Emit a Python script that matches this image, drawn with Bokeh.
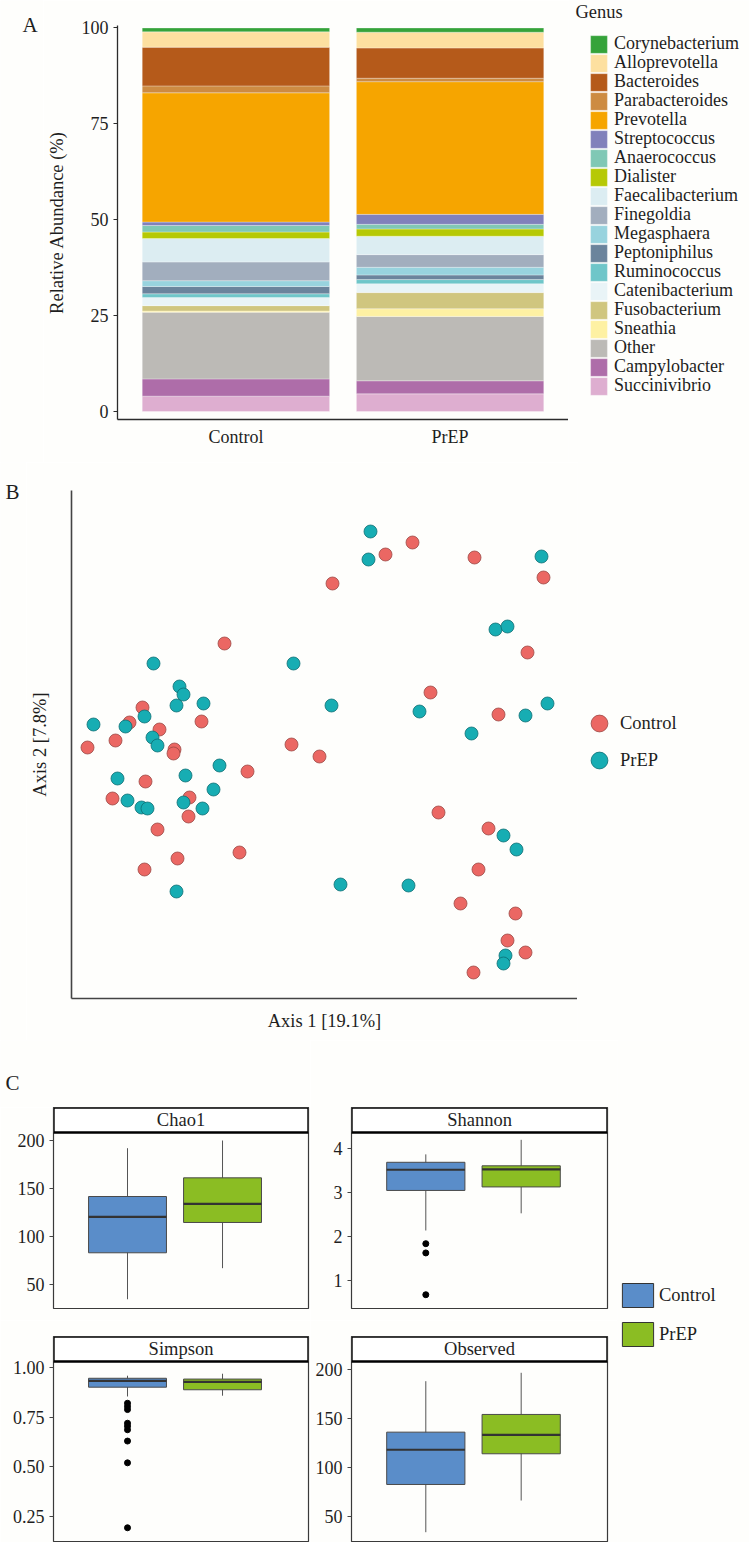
from bokeh.plotting import figure
from bokeh.models import (Range1d, FixedTicker, Legend, LegendItem, Label,
                          ColumnDataSource, NumeralTickFormatter, BoxAnnotation)
from bokeh.layouts import column, row
from bokeh.embed import file_html
from bokeh.resources import INLINE

FONT = "Liberation Serif"
BG = "#fefefc"
TXT = "#1e1e1e"

# ---------------- Panel A data ----------------
groups = ["Control", "PrEP"]
genera = ["Succinivibrio", "Campylobacter", "Other", "Sneathia", "Fusobacterium",
          "Catenibacterium", "Ruminococcus", "Peptoniphilus", "Megasphaera",
          "Finegoldia", "Faecalibacterium", "Dialister", "Anaerococcus",
          "Streptococcus", "Prevotella", "Parabacteroides", "Bacteroides",
          "Alloprevotella", "Corynebacterium"]
genus_colors = ["#deaed0", "#ae6da9", "#bcbab6", "#fef1a3", "#d0c67f",
                "#e9f4f7", "#6fc6c9", "#6b849c", "#98d3de",
                "#a2aebe", "#dcedf2", "#b6c905", "#80c8b5",
                "#8181bb", "#f6a500", "#cd8b42", "#b55a1a",
                "#fde0a0", "#35a33a"]
control_abund = [4.0, 4.5, 17.4, 0.3, 1.4, 2.1, 1.0, 1.9, 1.5, 4.9, 6.1, 1.7, 1.7,
                 0.9, 33.7, 1.8, 10.1, 4.0, 1.0]
prep_abund = [4.6, 3.4, 16.8, 2.0, 4.2, 2.3, 1.1, 1.2, 2.0, 3.3, 4.8, 1.9, 1.2,
              2.6, 34.6, 0.9, 7.9, 4.1, 1.1]

# ---------------- Panel B data (PCoA scores) ----------------
control_axis1 = [0.002, -0.106, -0.188, -0.129, -0.201, -0.171, -0.215, -0.243, -0.156,
                 -0.157, -0.039, -0.011, -0.083, -0.185, -0.218, -0.141, -0.142, -0.173,
                 -0.091, -0.153, -0.186, 0.082, 0.144, 0.213, 0.197, 0.100, 0.168,
                 0.108, 0.158, 0.148, 0.130, 0.185, 0.177, 0.195, 0.143, 0.055]
control_axis2 = [0.162, 0.102, 0.038, 0.024, 0.023, 0.016, 0.005, -0.002, -0.004,
                 -0.008, 0.001, -0.011, -0.026, -0.036, -0.053, -0.052, -0.071, -0.084,
                 -0.107, -0.113, -0.124, 0.203, 0.188, 0.168, 0.093, 0.053, 0.031,
                 -0.067, -0.083, -0.124, -0.158, -0.168, -0.195, -0.207, -0.227, 0.191]
prep_axis1 = [-0.177, -0.037, -0.151, -0.147, -0.154, -0.127, 0.001, -0.186, -0.237,
              -0.205, -0.178, -0.173, -0.111, -0.213, -0.145, -0.117, -0.203, -0.189,
              -0.183, -0.147, -0.128, -0.154, 0.010, 0.211, 0.165, 0.177, 0.089,
              0.195, 0.217, 0.141, 0.173, 0.186, 0.078, 0.175, 0.173, 0.040, 0.038]
prep_axis2 = [0.082, 0.082, 0.059, 0.051, 0.040, 0.042, 0.040, 0.029, 0.021,
              0.019, 0.008, 0.000, -0.020, -0.033, -0.030, -0.044, -0.055, -0.062,
              -0.063, -0.057, -0.063, -0.146, -0.139, 0.189, 0.116, 0.119, 0.034,
              0.030, 0.042, 0.012, -0.090, -0.104, -0.140, -0.210, -0.218, 0.214, 0.186]
axis1_label = "Axis 1 [19.1%]"
axis2_label = "Axis 2 [7.8%]"

# ---------------- Panel C data: [lower whisker, Q1, median, Q3, upper whisker] ----
metrics = ["Chao1", "Shannon", "Simpson", "Observed"]
chao1_control = [35.0, 83.3, 120.7, 141.8, 192.0]
chao1_prep = [67.3, 114.8, 134.2, 161.2, 200.0]
shannon_control = [2.13, 3.04, 3.51, 3.68, 3.86]
shannon_prep = [2.52, 3.12, 3.52, 3.60, 4.19]
simpson_control = [0.855, 0.902, 0.934, 0.947, 0.960]
simpson_prep = [0.859, 0.889, 0.929, 0.943, 0.970]
observed_control = [33.6, 82.4, 117.9, 135.9, 188.0]
observed_prep = [66.0, 113.8, 133.2, 154.0, 196.6]
shannon_control_outliers = [1.83, 1.62, 0.67]
simpson_control_outliers = [0.821, 0.805, 0.789, 0.720, 0.705, 0.687, 0.630, 0.520, 0.192]
chao1_ticks = [50, 100, 150, 200]
shannon_ticks = [1, 2, 3, 4]
simpson_ticks = [0.25, 0.50, 0.75, 1.00]
observed_ticks = [50, 100, 150, 200]

RED = "#eb6763"
TEAL = "#17adb3"
BLUE = "#5a8dc9"
GREEN = "#8bbd23"


def base_fig(w, h, **kw):
    p = figure(width=w, height=h, toolbar_location=None, output_backend="svg",
               frame_align=False, **kw)
    p.background_fill_color = BG
    p.border_fill_color = BG
    p.xgrid.visible = False
    p.ygrid.visible = False
    p.outline_line_color = None
    return p


def blank_fig(w, h):
    return base_fig(w, h, x_range=Range1d(0, 1), y_range=Range1d(0, 1),
                    x_axis_location=None, y_axis_location=None,
                    min_border_left=0, min_border_right=0, min_border_top=0,
                    min_border_bottom=0)


def letter(p, txt, x, y):
    p.add_layout(Label(x=x, y=y, x_units="screen", y_units="screen", text=txt,
                       text_font=FONT, text_font_size="21px", text_baseline="top",
                       text_color=TXT))


def style_axis(ax, fs="18px"):
    ax.major_label_text_font = FONT
    ax.major_label_text_font_size = fs
    ax.major_label_text_color = TXT
    ax.axis_label_text_font = FONT
    ax.axis_label_text_font_style = "normal"
    ax.axis_label_text_font_size = "18.5px"
    ax.axis_label_text_color = TXT
    ax.minor_tick_line_color = None


def one_legend(label, r, vx, vy, gw, gh, fs, standoff):
    return Legend(items=[LegendItem(label=label, renderers=[r])], location=(vx, vy),
                  glyph_width=gw, glyph_height=gh, label_height=gh, spacing=0,
                  padding=0, margin=0, label_standoff=standoff,
                  label_text_font=FONT, label_text_font_size=fs,
                  label_text_color=TXT, border_line_color=None,
                  background_fill_alpha=0)


# ======================= Panel A =======================
letterA = blank_fig(43, 462)
letter(letterA, "A", 22, 450)

pA = base_fig(525, 462, x_range=Range1d(0.447, 2.553), y_range=Range1d(-2.09, 100.65),
              min_border_left=72, min_border_right=0, min_border_top=25,
              min_border_bottom=43)
dataA = {"x": [1, 2]}
for g, c, pv in zip(genera, control_abund, prep_abund):
    dataA[g] = [c, pv]
srcA = ColumnDataSource(dataA)
rs = pA.vbar_stack(genera, x="x", width=0.875, source=srcA,
                   fill_color=genus_colors, line_color="white", line_width=0.6,
                   line_alpha=0.5)
for ax in (pA.xaxis, pA.yaxis):
    style_axis(ax)
    ax.axis_line_color = "#2b2b2b"
    ax.axis_line_width = 1.3
pA.yaxis.ticker = FixedTicker(ticks=[0, 25, 50, 75, 100])
pA.yaxis.major_tick_out = 4
pA.yaxis.major_tick_in = 0
pA.yaxis.major_tick_line_color = "#2b2b2b"
pA.yaxis.major_label_standoff = 5
pA.yaxis.axis_label = "Relative Abundance (%)"
pA.yaxis.axis_label_standoff = 12
pA.xaxis.ticker = FixedTicker(ticks=[1, 2])
pA.xaxis.major_label_overrides = {1: groups[0], 2: groups[1]}
pA.xaxis.major_tick_out = 0
pA.xaxis.major_tick_in = 0
pA.xaxis.major_label_standoff = 7

# legend for panel A: one entry per genus, top to bottom in reverse stack order
legAfig = blank_fig(181, 462)
proxA = legAfig.vbar_stack(genera, x="x", width=0.875, source=srcA,
                           fill_color=genus_colors, line_color="white",
                           line_width=0.6, line_alpha=0.5)
for r in proxA:
    r.visible = False
for i, (g, r) in enumerate(zip(genera[::-1], proxA[::-1])):
    legAfig.add_layout(one_legend(g, r, 20, 407.2 - 19 * i, 21, 22, "18px", 5))
legAfig.add_layout(Label(x=7, y=461, x_units="screen", y_units="screen", text="Genus",
                         text_font=FONT, text_font_size="18.5px", text_baseline="top",
                         text_color=TXT))

# ======================= Panel B =======================
letterB = blank_fig(26, 578)
letter(letterB, "B", 5, 561)

pB = base_fig(551, 578, x_range=Range1d(-0.259, 0.247), y_range=Range1d(-0.253, 0.255),
              min_border_left=45, min_border_right=0, min_border_top=28,
              min_border_bottom=42)
pB.scatter(control_axis1, control_axis2, size=13, fill_color=RED,
           line_color="#9c4744", line_width=0.8)
pB.scatter(prep_axis1, prep_axis2, size=13, fill_color=TEAL,
           line_color="#0d6e73", line_width=0.8)
for ax in (pB.xaxis, pB.yaxis):
    style_axis(ax)
    ax.ticker = FixedTicker(ticks=[])
    ax.major_tick_out = 0
    ax.major_tick_in = 0
    ax.axis_line_color = "#444444"
    ax.axis_line_width = 1.6
pB.xaxis.axis_label = axis1_label
pB.yaxis.axis_label = axis2_label
pB.xaxis.axis_label_standoff = 12
pB.yaxis.axis_label_standoff = 22

legBfig = blank_fig(172, 578)
pc = legBfig.scatter(control_axis1, control_axis2, size=13, fill_color=RED,
                     line_color="#9c4744", line_width=0.8)
pp = legBfig.scatter(prep_axis1, prep_axis2, size=13, fill_color=TEAL,
                     line_color="#0d6e73", line_width=0.8)
pc.visible = False
pp.visible = False
legBfig.add_layout(one_legend(groups[0], pc, 1, 296, 42, 42, "18.5px", 0))
legBfig.add_layout(one_legend(groups[1], pp, 1, 259, 42, 42, "18.5px", 0))

# ======================= Panel C =======================
XR = (0.221, 2.905)


def box_panel(name, ctrl, prep, outl, yr, strip_bottom, ticks, w, h, left, right,
              top, bottom, fmt=None):
    p = base_fig(w, h, x_range=Range1d(*XR), y_range=Range1d(*yr),
                 x_axis_location=None, min_border_left=left, min_border_right=right,
                 min_border_top=top, min_border_bottom=bottom)
    p.outline_line_color = "#3a3a3a"
    p.outline_line_width = 1.2
    stats = [ctrl, prep]
    xs = [1, 2]
    lo = [s[0] for s in stats]
    q1 = [s[1] for s in stats]
    med = [s[2] for s in stats]
    q3 = [s[3] for s in stats]
    hi = [s[4] for s in stats]
    p.segment(x0=xs, y0=lo, x1=xs, y1=hi, line_color="#555555", line_width=1)
    p.vbar(x=xs, width=0.82, bottom=q1, top=q3, fill_color=[BLUE, GREEN],
           line_color="#4a4a4a", line_width=1)
    p.vbar(x=xs, width=0.82, bottom=med, top=med, fill_color=None,
           line_color="#333333", line_width=2.2)
    if outl:
        p.scatter([1] * len(outl), outl, size=6, color="black")
    # facet strip
    p.add_layout(BoxAnnotation(left=XR[0], right=XR[1], bottom=strip_bottom, top=yr[1],
                               fill_color="white", fill_alpha=1.0, line_color="black",
                               line_width=2.4, line_alpha=1.0))
    p.add_layout(Label(x=(XR[0] + XR[1]) / 2, y=(strip_bottom + yr[1]) / 2, text=name,
                       text_align="center", text_baseline="middle", text_font=FONT,
                       text_font_size="18.5px", text_color=TXT))
    style_axis(p.yaxis)
    p.yaxis.ticker = FixedTicker(ticks=ticks)
    if fmt:
        p.yaxis.formatter = NumeralTickFormatter(format=fmt)
    p.yaxis.axis_line_color = None
    p.yaxis.major_tick_out = 4
    p.yaxis.major_tick_in = 0
    p.yaxis.major_tick_line_color = "#444444"
    p.yaxis.major_label_standoff = 5
    return p


LW, RW = 310, 307
letterC = blank_fig(LW, 67)
letter(letterC, "C", 5, 37)
p1 = box_panel(metrics[0], chao1_control, chao1_prep, [], (25.4, 234.3), 208.3,
               chao1_ticks, LW, 213, 53, 2, 0, 12)
p3 = box_panel(metrics[2], simpson_control, simpson_prep, simpson_control_outliers,
               (0.1227, 1.158), 1.0318, simpson_ticks, LW, 222, 53, 2, 16, 1,
               fmt="0.00")
p2 = box_panel(metrics[1], shannon_control, shannon_prep, shannon_control_outliers,
               (0.357, 4.925), 4.357, shannon_ticks, RW, 280, 41, 10, 67, 12)
p4 = box_panel(metrics[3], observed_control, observed_prep, [], (24.1, 233.7), 208.2,
               observed_ticks, RW, 222, 41, 10, 16, 1)

pL = blank_fig(132, 502)
rl1 = pL.vbar(x=[1], bottom=[chao1_control[1]], top=[chao1_control[3]], width=0.5,
              fill_color=BLUE, line_color="#333333", line_width=1)
rl2 = pL.vbar(x=[2], bottom=[chao1_prep[1]], top=[chao1_prep[3]], width=0.5,
              fill_color=GREEN, line_color="#333333", line_width=1)
rl1.visible = False
rl2.visible = False
legC = Legend(items=[LegendItem(label=groups[0], renderers=[rl1]),
                     LegendItem(label=groups[1], renderers=[rl2])],
              location=(1, 193), glyph_width=39, glyph_height=30, label_height=30,
              spacing=9, padding=0, margin=0, label_standoff=2,
              label_text_font=FONT, label_text_font_size="18.5px",
              label_text_color=TXT, border_line_color=None,
              background_fill_alpha=0)
pL.add_layout(legC)

layout = column(
    row(letterA, pA, legAfig),
    row(letterB, pB, legBfig),
    row(column(letterC, p1, p3), column(p2, p4), pL),
)

with open("out.html", "w") as f:
    f.write(file_html(layout, INLINE))
